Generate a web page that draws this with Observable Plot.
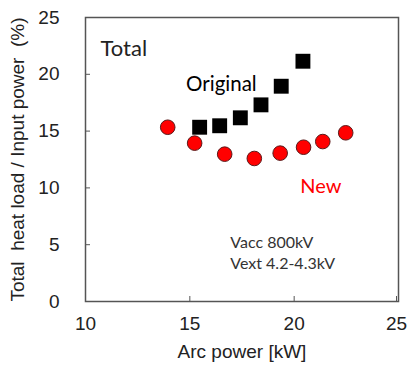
<!DOCTYPE html>
<html><head><meta charset="utf-8">
<script src="https://cdn.jsdelivr.net/npm/d3@7"></script>
<script src="https://cdn.jsdelivr.net/npm/@observablehq/plot@0.6"></script>
<style>
html,body{margin:0;padding:0;background:#fff;}
svg text{white-space:pre;}
</style>
</head><body>
<div id="chart"></div>
<script>
const originalArc = [15.47, 16.43, 17.42, 18.41, 19.38, 20.42];
const originalPct = [15.34, 15.47, 16.17, 17.31, 18.95, 21.15];
const newArc = [13.94, 15.23, 16.67, 18.09, 19.33, 20.45, 21.37, 22.47];
const newPct = [15.34, 13.94, 12.97, 12.59, 13.06, 13.58, 14.08, 14.85];
const xTicks = [10, 15, 20, 25];
const yTicks = [0, 5, 10, 15, 20, 25];

const original = originalArc.map((x, i) => ({x, y: originalPct[i]}));
const fresh = newArc.map((x, i) => ({x, y: newPct[i]}));

const annoFont = "Lato, 'Open Sans', sans-serif";

const plot = Plot.plot({
  width: 407,
  height: 365,
  marginLeft: 85,
  marginRight: 9,
  marginTop: 17,
  marginBottom: 64,
  style: {fontFamily: "'Liberation Sans', Arial, sans-serif", background: "#fff"},
  x: {domain: [10, 25]},
  y: {domain: [0, 25]},
  marks: [
    Plot.frame({stroke: "#555", strokeWidth: 1.5}),
    Plot.axisX(xTicks.filter(t => t < 25), {tickSize: -5, tickPadding: 20, fontSize: 19, fill: "#222", stroke: "#555",
      label: "Arc power [kW]", labelAnchor: "center", labelArrow: false, labelOffset: 56}),
    Plot.axisX(xTicks.filter(t => t >= 25), {tickSize: -5, tickPadding: 20, fontSize: 19, fill: "#222", stroke: "#555", dx: -2, label: null}),
    Plot.axisY({ticks: yTicks, tickSize: -5, tickPadding: 31, fontSize: 19, fill: "#222", stroke: "#555",
      label: "Total  heat load / Input power  (%)", labelAnchor: "center", labelArrow: false, labelOffset: 75}),
    Plot.dot(original, {x: "x", y: "y", symbol: "square", r: 8.4, fill: "#000", stroke: "none"}),
    Plot.dot(fresh, {x: "x", y: "y", r: 7.3, fill: "#f00", stroke: "#5a1a1a", strokeWidth: 1}),
    Plot.text(["Total"], {x: 10.72, y: 21.57, text: d => d, textAnchor: "start", lineAnchor: "bottom", fontSize: 22, fontFamily: annoFont, fill: "#222"}),
    Plot.text(["Original"], {x: 14.82, y: 18.51, text: d => d, textAnchor: "start", lineAnchor: "bottom", fontSize: 20.5, fontFamily: annoFont, fill: "#000"}),
    Plot.text(["New"], {x: 20.29, y: 9.51, text: d => d, textAnchor: "start", lineAnchor: "bottom", fontSize: 20, fontFamily: annoFont, fill: "#f00"}),
    Plot.text(["Vacc 800kV"], {x: 16.94, y: 4.75, text: d => d, textAnchor: "start", lineAnchor: "bottom", fontSize: 16, fontFamily: annoFont, fill: "#333"}),
    Plot.text(["Vext 4.2-4.3kV"], {x: 16.94, y: 2.82, text: d => d, textAnchor: "start", lineAnchor: "bottom", fontSize: 16, fontFamily: annoFont, fill: "#333"})
  ]
});
document.getElementById("chart").appendChild(plot);
</script>
</body></html>
